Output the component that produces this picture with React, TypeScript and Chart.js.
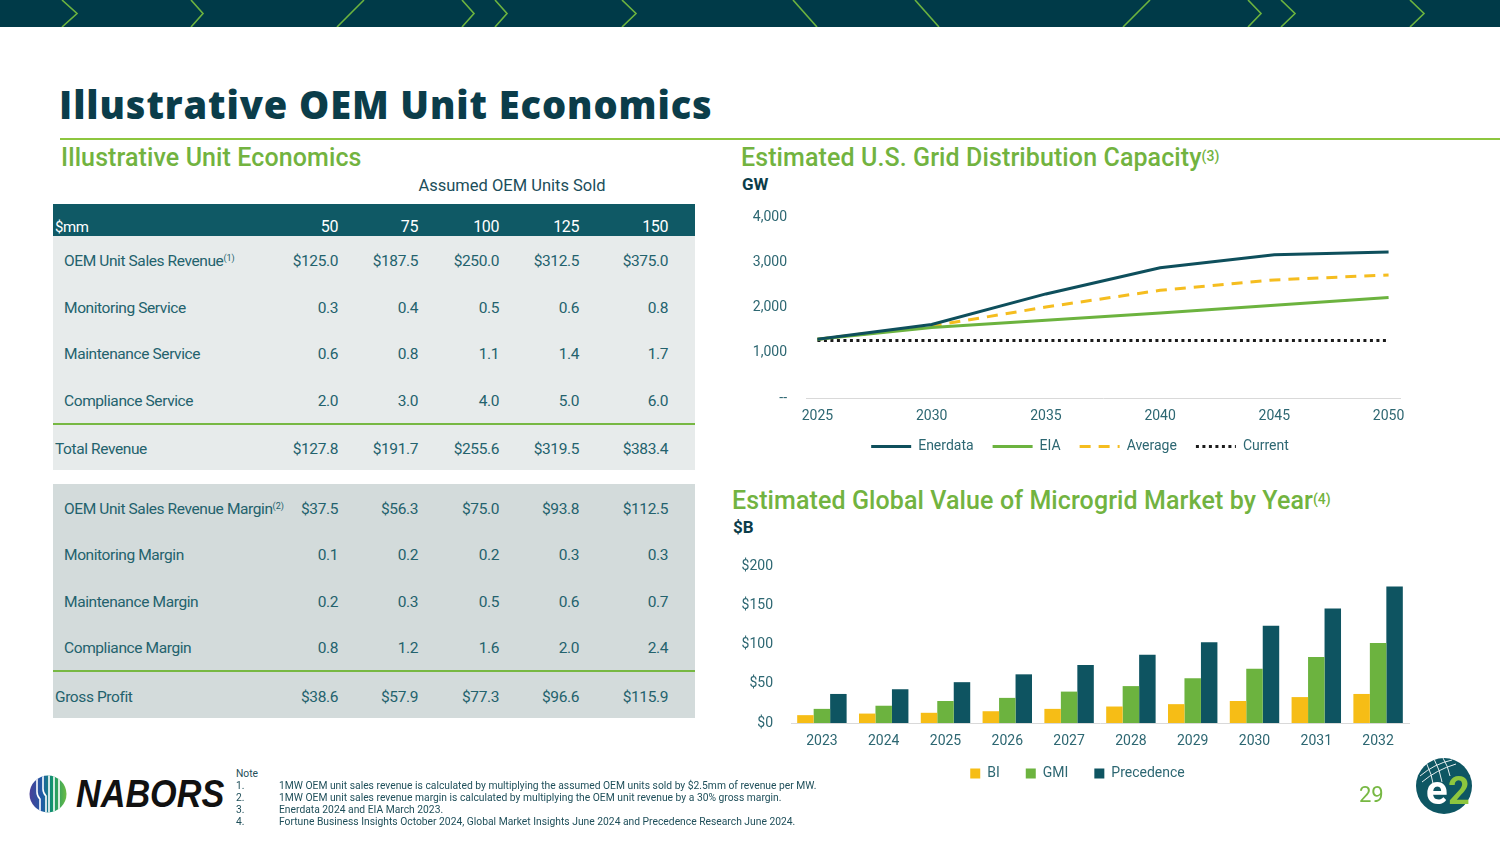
import React, { useEffect, useRef } from 'react';
import { Chart, registerables } from 'chart.js';
Chart.register(...registerables);

// ---------- Table data ----------
const unitsSold = ['50', '75', '100', '125', '150'];
const oemRevenue = ['$125.0', '$187.5', '$250.0', '$312.5', '$375.0'];
const monitoringService = ['0.3', '0.4', '0.5', '0.6', '0.8'];
const maintenanceService = ['0.6', '0.8', '1.1', '1.4', '1.7'];
const complianceService = ['2.0', '3.0', '4.0', '5.0', '6.0'];
const totalRevenue = ['$127.8', '$191.7', '$255.6', '$319.5', '$383.4'];
const oemMargin = ['$37.5', '$56.3', '$75.0', '$93.8', '$112.5'];
const monitoringMargin = ['0.1', '0.2', '0.2', '0.3', '0.3'];
const maintenanceMargin = ['0.2', '0.3', '0.5', '0.6', '0.7'];
const complianceMargin = ['0.8', '1.2', '1.6', '2.0', '2.4'];
const grossProfit = ['$38.6', '$57.9', '$77.3', '$96.6', '$115.9'];

// ---------- Line chart data (GW) ----------
const lineYears = [2025, 2030, 2035, 2040, 2045, 2050];
const enerdata = [1300, 1625, 2300, 2880, 3165, 3225];
const eia = [1300, 1560, 1720, 1880, 2050, 2220];
const average = [1300, 1590, 2010, 2380, 2610, 2720];
const currentYears = [2025, 2050];
const current = [1270, 1270];
const lineXTicks = [2025, 2030, 2035, 2040, 2045, 2050];
const lineYTickValues = [0, 1000, 2000, 3000, 4000];
const lineYTickLabels = ['--', '1,000', '2,000', '3,000', '4,000'];

// ---------- Bar chart data ($B) ----------
const barYears = ['2023', '2024', '2025', '2026', '2027', '2028', '2029', '2030', '2031', '2032'];
const bi = [10, 12, 13, 15, 18, 21, 24, 28, 33, 37];
const gmi = [18, 22, 28, 32, 40, 47, 57, 69, 84, 102];
const precedence = [37, 43, 52, 62, 74, 87, 103, 124, 146, 174];
const barYTickValues = [0, 50, 100, 150, 200];
const barYTickLabels = ['$0', '$50', '$100', '$150', '$200'];

const notes = [
  '1MW OEM unit sales revenue is calculated by multiplying the assumed OEM units sold by $2.5mm of revenue per MW.',
  '1MW OEM unit sales revenue margin is calculated by multiplying the OEM unit revenue by a 30% gross margin.',
  'Enerdata 2024 and EIA March 2023.',
  'Fortune Business Insights October 2024, Global Market Insights June 2024 and Precedence Research June 2024.',
];

const DARK = '#0b3d4a';
const TEAL_TEXT = '#23626d';
const GREEN = '#72b340';
const TICK = '#2d6772';
const FONT = 'Roboto, "Open Sans", sans-serif';

const colTemplate = '205px 80px 80px 81px 80px 89px';

// places the legend box at a fixed spot inside the canvas
const legendPlacer = {
  id: 'legendPlacer',
  beforeDraw(chart: any, _args: any, opts: any) {
    const lg = chart.legend;
    if (!lg || !opts || typeof opts.top !== 'number') return;
    const h = lg.bottom - lg.top;
    lg.top = opts.top;
    lg.bottom = opts.top + h;
    lg.left = opts.left;
    lg.right = opts.right;
  },
};

function Row(props: { label: React.ReactNode; values: string[]; top: number; height: number; indent: number; header?: boolean }) {
  const { label, values, top, height, indent, header } = props;
  return (
    <div
      style={{
        position: 'absolute', left: 53, top, width: 642, height,
        display: 'grid', gridTemplateColumns: colTemplate,
        alignItems: header ? 'end' : 'center',
        color: header ? '#ffffff' : TEAL_TEXT,
        fontSize: 15.5,
        letterSpacing: -0.4,
        lineHeight: header ? '22px' : '20px',
        paddingTop: header ? 0 : 3,
        boxSizing: 'border-box',
      }}
    >
      <div style={{ paddingLeft: indent, whiteSpace: 'nowrap', fontSize: header ? 15 : 15.5, position: 'relative', top: header ? 2 : 0 }}>{label}</div>
      {values.map((v, i) => (
        <div key={i} style={{ textAlign: 'right', fontSize: header ? 16 : 15.5, position: 'relative', top: header ? 2 : 0 }}>{v}</div>
      ))}
    </div>
  );
}

const sup = (t: string) => (
  <sup style={{ fontSize: 9, verticalAlign: 'top', position: 'relative', top: -3, letterSpacing: 0 }}>{t}</sup>
);

export default function App() {
  const lineRef = useRef<HTMLCanvasElement>(null);
  const barRef = useRef<HTMLCanvasElement>(null);

  useEffect(() => {
    const tickFont = { family: 'Roboto', size: 14 };
    const noPad = (s: any) => { s.paddingTop = 0; s.paddingBottom = 0; s.paddingLeft = 0; s.paddingRight = 0; };
    const lineDatasets = [
      { label: 'Enerdata', data: lineYears.map((x, i) => ({ x, y: enerdata[i] })), borderColor: '#0e4f5c', backgroundColor: '#0e4f5c', borderWidth: 3, pointRadius: 0, tension: 0, borderDash: [] as number[] },
      { label: 'EIA', data: lineYears.map((x, i) => ({ x, y: eia[i] })), borderColor: '#6cb33f', backgroundColor: '#6cb33f', borderWidth: 3, pointRadius: 0, tension: 0, borderDash: [] as number[] },
      { label: 'Average', data: lineYears.map((x, i) => ({ x, y: average[i] })), borderColor: '#f5bd1f', backgroundColor: '#f5bd1f', borderWidth: 3, pointRadius: 0, tension: 0, borderDash: [11, 8] },
      { label: 'Current', data: currentYears.map((x, i) => ({ x, y: current[i] })), borderColor: '#1b1b1b', backgroundColor: '#1b1b1b', borderWidth: 3, pointRadius: 0, tension: 0, borderDash: [3, 3.5] },
    ];
    const lc = new Chart(lineRef.current as HTMLCanvasElement, {
      type: 'line',
      data: { datasets: lineDatasets as any },
      plugins: [legendPlacer],
      options: {
        responsive: false,
        animation: false,
        devicePixelRatio: 1,
        layout: { padding: { top: 17, right: 10, left: 0, bottom: 0 } },
        plugins: {
          tooltip: { enabled: false },
          legendPlacer: { top: 220.6, left: 0, right: 680 },
          legend: {
            position: 'bottom',
            labels: {
              usePointStyle: true,
              pointStyleWidth: 40,
              color: TICK,
              font: tickFont,
              padding: 19,
              generateLabels: (chart: any) =>
                chart.data.datasets.map((ds: any, i: number) => ({
                  text: ds.label,
                  fillStyle: ds.borderColor,
                  strokeStyle: ds.borderColor,
                  lineWidth: 3,
                  lineDash: ds.borderDash || [],
                  pointStyle: 'line',
                  datasetIndex: i,
                  fontColor: TICK,
                  hidden: false,
                })),
            },
          },
        },
        scales: {
          x: {
            type: 'linear',
            min: 2024.5,
            max: 2050.5,
            afterBuildTicks: (s: any) => { s.ticks = lineXTicks.map((v) => ({ value: v })); },
            afterFit: (s: any) => { s.height = 28; noPad(s); },
            ticks: { callback: (v: any) => String(v), color: TICK, font: tickFont, padding: 10, autoSkip: false, maxRotation: 0 },
            grid: { display: false, drawTicks: false },
            border: { display: true, color: '#d9d9d9', width: 1 },
          },
          y: {
            min: 0,
            max: 4000,
            afterBuildTicks: (s: any) => { s.ticks = lineYTickValues.map((v) => ({ value: v })); },
            afterFit: (s: any) => { s.width = 66; noPad(s); },
            ticks: { callback: (_v: any, i: number) => lineYTickLabels[i], color: TICK, font: tickFont, padding: 19 },
            grid: { display: false, drawTicks: false },
            border: { display: false },
          },
        },
      } as any,
    });

    const bc = new Chart(barRef.current as HTMLCanvasElement, {
      type: 'bar',
      data: {
        labels: barYears,
        datasets: [
          { label: 'BI', data: bi, backgroundColor: '#f6bd16', borderWidth: 0 },
          { label: 'GMI', data: gmi, backgroundColor: '#6cb33f', borderWidth: 0 },
          { label: 'Precedence', data: precedence, backgroundColor: '#0e5461', borderWidth: 0 },
        ],
      },
      plugins: [legendPlacer],
      options: {
        responsive: false,
        animation: false,
        devicePixelRatio: 1,
        layout: { padding: { top: 21, right: 10, left: 0, bottom: 0 } },
        datasets: { bar: { categoryPercentage: 0.8, barPercentage: 1.0 } },
        plugins: {
          tooltip: { enabled: false },
          legendPlacer: { top: 195.6, left: 0, right: 715 },
          legend: {
            position: 'bottom',
            labels: { boxWidth: 10, boxHeight: 10, color: TICK, font: tickFont, padding: 26 },
          },
        },
        scales: {
          x: {
            afterFit: (s: any) => { s.height = 32; noPad(s); },
            ticks: { color: TICK, font: tickFont, padding: 10 },
            grid: { display: false, drawTicks: false },
            border: { display: true, color: '#d9d9d9', width: 1 },
          },
          y: {
            min: 0,
            max: 200,
            afterBuildTicks: (s: any) => { s.ticks = barYTickValues.map((v) => ({ value: v })); },
            afterFit: (s: any) => { s.width = 71; noPad(s); },
            ticks: { callback: (_v: any, i: number) => barYTickLabels[i], color: TICK, font: tickFont, padding: 18 },
            grid: { display: false, drawTicks: false },
            border: { display: false },
          },
        },
      } as any,
    });

    return () => { lc.destroy(); bc.destroy(); };
  }, []);

  const chevrons = [
    'M62,0 L77,13.5 L62,27', 'M191,0 L203,13.5 L191,27', 'M364,0 L337,27',
    'M462,0 L474,13.5 L462,27', 'M495,0 L507,13.5 L495,27', 'M622,0 L636,13.5 L622,27',
    'M793,0 L817,27', 'M915,0 L939,27', 'M1150,0 L1123,27',
    'M1248,0 L1261,13.5 L1248,27', 'M1281,0 L1295,13.5 L1281,27', 'M1410,0 L1424,13.5 L1410,27',
  ];

  const r1 = 46.75;
  const titleStyle: React.CSSProperties = { position: 'absolute', fontSize: 25, letterSpacing: 0.1, fontWeight: 500, color: GREEN, lineHeight: '30px', whiteSpace: 'nowrap' };
  const supStyle: React.CSSProperties = { fontSize: 14, verticalAlign: 'top', position: 'relative', top: -2, letterSpacing: 0 };
  return (
    <div style={{ position: 'absolute', left: 0, top: 0, width: 1500, height: 843, background: '#ffffff', overflow: 'hidden', fontFamily: FONT }}>
      {/* Banner */}
      <svg width={1500} height={27} style={{ position: 'absolute', left: 0, top: 0 }}>
        <rect x={0} y={0} width={1500} height={27} fill="#003a48" />
        {chevrons.map((d, i) => (
          <path key={i} d={d} stroke="#6cb33f" strokeWidth={1.6} fill="none" />
        ))}
      </svg>

      {/* Title */}
      <div style={{ position: 'absolute', left: 59, top: 81, fontFamily: '"Open Sans", sans-serif', fontWeight: 800, fontSize: 38, letterSpacing: 0.9, color: DARK, lineHeight: '46px', whiteSpace: 'nowrap' }}>
        Illustrative OEM Unit Economics
      </div>
      <div style={{ position: 'absolute', left: 60, top: 138, width: 1440, height: 2, background: '#8dc63f' }} />

      {/* Left section */}
      <div style={{ ...titleStyle, left: 61, top: 143 }}>Illustrative Unit Economics</div>
      <div style={{ position: 'absolute', left: 402, top: 176, width: 220, textAlign: 'center', fontSize: 16.5, color: '#1b4e5a', lineHeight: '20px' }}>
        Assumed OEM Units Sold
      </div>

      {/* Table backgrounds */}
      <div style={{ position: 'absolute', left: 53, top: 204, width: 642, height: 32, background: '#0f5965' }} />
      <div style={{ position: 'absolute', left: 53, top: 236, width: 642, height: 234, background: '#e7ebeb' }} />
      <div style={{ position: 'absolute', left: 53, top: 423, width: 642, height: 2, background: '#77b843' }} />
      <div style={{ position: 'absolute', left: 53, top: 484, width: 642, height: 234, background: '#d3dbdb' }} />
      <div style={{ position: 'absolute', left: 53, top: 670, width: 642, height: 2, background: '#77b843' }} />

      <Row header label="$mm" values={unitsSold} top={204} height={32} indent={2} />
      <Row label={<span>OEM Unit Sales Revenue{sup('(1)')}</span>} values={oemRevenue} top={236} height={r1} indent={11} />
      <Row label="Monitoring Service" values={monitoringService} top={236 + r1} height={r1} indent={11} />
      <Row label="Maintenance Service" values={maintenanceService} top={236 + 2 * r1} height={r1} indent={11} />
      <Row label="Compliance Service" values={complianceService} top={236 + 3 * r1} height={r1} indent={11} />
      <Row label="Total Revenue" values={totalRevenue} top={425} height={45} indent={2} />

      <Row label={<span>OEM Unit Sales Revenue Margin{sup('(2)')}</span>} values={oemMargin} top={484} height={46.5} indent={11} />
      <Row label="Monitoring Margin" values={monitoringMargin} top={484 + 46.5} height={46.5} indent={11} />
      <Row label="Maintenance Margin" values={maintenanceMargin} top={484 + 2 * 46.5} height={46.5} indent={11} />
      <Row label="Compliance Margin" values={complianceMargin} top={484 + 3 * 46.5} height={46.5} indent={11} />
      <Row label="Gross Profit" values={grossProfit} top={672} height={46} indent={2} />

      {/* Line chart section */}
      <div style={{ ...titleStyle, left: 741, top: 143 }}>
        Estimated U.S. Grid Distribution Capacity<sup style={supStyle}>(3)</sup>
      </div>
      <div style={{ position: 'absolute', left: 742, top: 173, fontSize: 17, fontWeight: 700, color: DARK, lineHeight: '22px' }}>GW</div>
      <div style={{ position: 'absolute', left: 740, top: 200 }}>
        <canvas ref={lineRef} width={670} height={269} style={{ display: 'block' }} />
      </div>

      {/* Bar chart section */}
      <div style={{ ...titleStyle, left: 732, top: 486 }}>
        Estimated Global Value of Microgrid Market by Year<sup style={supStyle}>(4)</sup>
      </div>
      <div style={{ position: 'absolute', left: 733, top: 516, fontSize: 17, fontWeight: 700, color: DARK, lineHeight: '22px' }}>$B</div>
      <div style={{ position: 'absolute', left: 720, top: 545 }}>
        <canvas ref={barRef} width={699} height={260} style={{ display: 'block' }} />
      </div>

      {/* NABORS logo */}
      <svg width={40} height={40} style={{ position: 'absolute', left: 28, top: 774 }}>
        <defs>
          <linearGradient id="nabg" x1="0" y1="0" x2="1" y2="0">
            <stop offset="0" stopColor="#4a3f98" />
            <stop offset="0.35" stopColor="#1f5ca6" />
            <stop offset="0.62" stopColor="#11956a" />
            <stop offset="1" stopColor="#6dbb45" />
          </linearGradient>
          <clipPath id="nabc"><circle cx={20} cy={20} r={18.5} /></clipPath>
        </defs>
        <circle cx={20} cy={20} r={18.5} fill="url(#nabg)" />
        <g clipPath="url(#nabc)" stroke="#ffffff" strokeWidth={1.6} fill="none">
          <path d="M9,0 L9,18 Q9,22 12,25 L12,40" />
          <path d="M15,0 L15,15 Q15,19 18,22 L18,40" />
          <path d="M21,0 L21,40" />
          <path d="M26,0 L26,40" />
          <path d="M31,0 L31,40" />
        </g>
      </svg>
      <div style={{ position: 'absolute', left: 76, top: 772, fontFamily: '"Liberation Sans", Arial, sans-serif', fontWeight: 700, fontStyle: 'italic', fontSize: 38, color: '#111111', lineHeight: '44px', transform: 'scaleX(0.9)', transformOrigin: 'left center', whiteSpace: 'nowrap' }}>
        NABORS
      </div>

      {/* Notes */}
      <div style={{ position: 'absolute', left: 236, top: 768, fontSize: 10.3, color: '#1f4f5a', lineHeight: '12px' }}>Note</div>
      {notes.map((n, i) => (
        <React.Fragment key={i}>
          <div style={{ position: 'absolute', left: 236, top: 780 + i * 12, fontSize: 10.3, color: '#1f4f5a', lineHeight: '12px' }}>{`${i + 1}.`}</div>
          <div style={{ position: 'absolute', left: 279, top: 780 + i * 12, fontSize: 10.3, color: '#1f4f5a', lineHeight: '12px', whiteSpace: 'nowrap' }}>{n}</div>
        </React.Fragment>
      ))}

      {/* Page number */}
      <div style={{ position: 'absolute', left: 1359, top: 781, fontSize: 22, color: '#77b843', lineHeight: '28px' }}>29</div>

      {/* e2 logo */}
      <svg width={64} height={64} style={{ position: 'absolute', left: 1412, top: 754 }}>
        <defs>
          <clipPath id="e2c"><circle cx={32} cy={32} r={28} /></clipPath>
        </defs>
        <circle cx={32} cy={32} r={28} fill="#0e5663" />
        <g clipPath="url(#e2c)" stroke="#ffffff" strokeWidth={1} fill="none" opacity={0.9}>
          <path d="M8,22 Q22,10 40,6" />
          <path d="M10,28 Q24,16 44,10" />
          <path d="M14,8 Q20,20 22,34" />
          <path d="M22,5 Q28,16 30,28" />
          <path d="M31,4 Q36,12 38,22" />
        </g>
        <text x={14} y={50} fontFamily="Roboto, sans-serif" fontWeight={700} fontSize={40} fill="#ffffff">e</text>
        <text x={36} y={50} fontFamily="Roboto, sans-serif" fontWeight={700} fontSize={38} fill="#8dc63f">2</text>
      </svg>
    </div>
  );
}
